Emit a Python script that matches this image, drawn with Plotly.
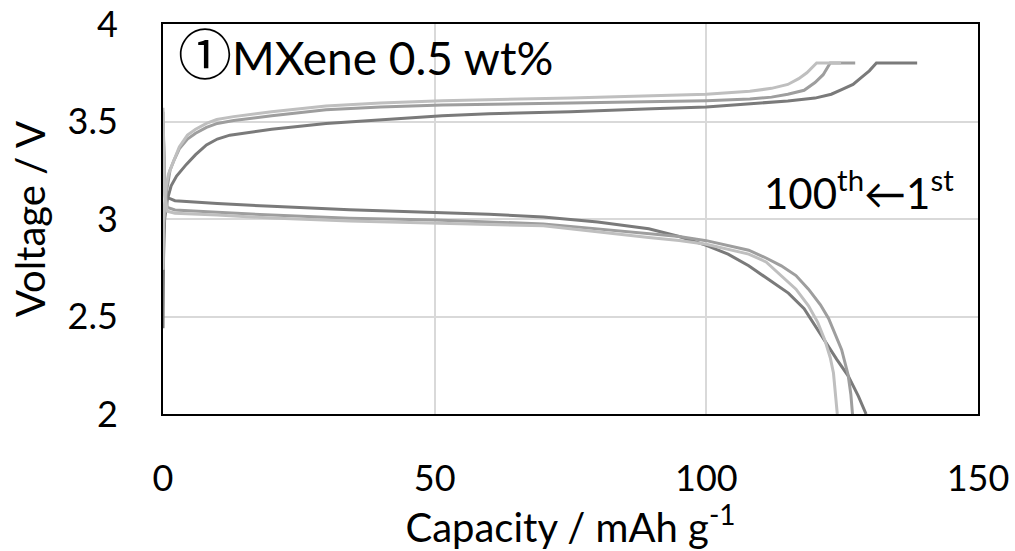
import plotly.graph_objects as go

# 1st cycle (dark)
ch1_cap = [0, 0.1, 0.3, 0.8, 1.5, 2.5, 4.3, 6, 8, 10, 12.3, 15, 20, 30, 40, 51.4, 60, 75, 90, 100, 110, 115, 120, 123, 125, 127, 128.5, 130, 131.3, 138.8]
ch1_v = [2.44, 2.8, 3.0, 3.1, 3.17, 3.22, 3.28, 3.33, 3.38, 3.41, 3.43, 3.44, 3.46, 3.49, 3.51, 3.53, 3.54, 3.55, 3.565, 3.575, 3.595, 3.605, 3.62, 3.64, 3.665, 3.69, 3.725, 3.76, 3.8, 3.8]
dis1_cap = [0, 0.3, 0.8, 2.2, 10, 20, 34.3, 50, 60, 70, 80, 89.4, 95, 100, 104, 107.8, 111, 115.1, 118, 121.2, 124, 126.1, 128, 129.4]
dis1_v = [3.5, 3.2, 3.11, 3.094, 3.08, 3.065, 3.048, 3.035, 3.025, 3.01, 2.985, 2.95, 2.91, 2.865, 2.82, 2.76, 2.70, 2.62, 2.54, 2.40, 2.28, 2.196, 2.09, 2.0]

# middle cycle
ch2_cap = [0, 0.1, 0.3, 0.7, 1.3, 2, 3, 4.5, 6, 8, 10, 13, 20, 30, 40, 51.4, 75, 100, 108, 112, 115, 118, 120, 121.5, 122.8, 127.4]
ch2_v = [2.74, 2.95, 3.05, 3.15, 3.25, 3.3, 3.36, 3.41, 3.44, 3.47, 3.49, 3.505, 3.53, 3.56, 3.575, 3.585, 3.595, 3.607, 3.615, 3.625, 3.64, 3.66, 3.7, 3.74, 3.8, 3.8]
dis2_cap = [0, 0.3, 0.8, 2.2, 10, 20, 34.3, 50, 70, 89.4, 95, 100, 104, 107.8, 111, 113.8, 116.5, 118.8, 121, 122.5, 124.9, 126.1, 126.6, 126.9]
dis2_v = [3.55, 3.15, 3.06, 3.046, 3.035, 3.02, 3.004, 2.995, 2.975, 2.925, 2.91, 2.889, 2.865, 2.84, 2.80, 2.76, 2.71, 2.64, 2.56, 2.49, 2.33, 2.2, 2.1, 2.0]

# 100th cycle (light)
ch3_cap = [0, 0.1, 0.3, 0.6, 1.0, 1.8, 3, 4.5, 6, 8, 9.9, 13, 20, 30, 40, 51.4, 75, 100, 108, 112, 115, 117, 118.5, 120.3, 124.8]
ch3_v = [2.74, 2.98, 3.08, 3.17, 3.23, 3.29, 3.37, 3.43, 3.46, 3.49, 3.51, 3.525, 3.55, 3.58, 3.595, 3.607, 3.62, 3.64, 3.655, 3.67, 3.69, 3.72, 3.75, 3.8, 3.8]
dis3_cap = [0, 0.3, 0.8, 2.2, 10, 20, 34.3, 50, 70, 89.4, 95, 100, 104, 107.8, 111, 113.8, 116.5, 118.8, 120.5, 121.8, 122.8, 123.4, 123.8, 124.1]
dis3_v = [3.57, 3.12, 3.04, 3.03, 3.02, 3.005, 2.99, 2.98, 2.965, 2.905, 2.89, 2.87, 2.845, 2.82, 2.78, 2.71, 2.64, 2.555, 2.47, 2.38, 2.29, 2.21, 2.1, 2.0]

x_ticks = [0, 50, 100, 150]
y_ticks = [2, 2.5, 3, 3.5, 4]
y_tick_labels = ["2", "2.5", "3", "3.5", "4"]

colors = ["#7a7a7a", "#9e9e9e", "#bfbfbf"]
FONT = "Lato, 'Noto Sans CJK JP', sans-serif"

fig = go.Figure()
series = [
    (ch1_cap, ch1_v, dis1_cap, dis1_v),
    (ch2_cap, ch2_v, dis2_cap, dis2_v),
    (ch3_cap, ch3_v, dis3_cap, dis3_v),
]
for (cc, cv, dc, dv), col in zip(series, colors):
    fig.add_trace(go.Scatter(x=cc, y=cv, mode="lines", line=dict(color=col, width=3), showlegend=False))
    fig.add_trace(go.Scatter(x=dc, y=dv, mode="lines", line=dict(color=col, width=3), showlegend=False))

fig.add_annotation(x=2.4, y=3.86, xref="x", yref="y",
                   text="<span style=\"font-family:'Noto Sans CJK JP';font-size:54px\">①</span>MXene 0.5 wt%",
                   showarrow=False, xanchor="left", yanchor="middle",
                   font=dict(family=FONT, size=46, color="black"))
fig.add_annotation(x=146, y=3.15, xref="x", yref="y", text="100<sup>th</sup>←1<sup>st</sup>", showarrow=False,
                   xanchor="right", yanchor="middle", font=dict(family=FONT, size=42, color="black"))

fig.update_layout(
    width=1015, height=551,
    margin=dict(l=163, r=37, t=24, b=137, autoexpand=False),
    paper_bgcolor="white", plot_bgcolor="white",
    font=dict(family=FONT, size=36, color="black"),
)
fig.update_xaxes(range=[0, 150], tickvals=x_ticks, showgrid=True, gridcolor="#d9d9d9", gridwidth=1.5,
                 showline=True, linecolor="black", linewidth=2, mirror=True, zeroline=False,
                 ticks="", ticklabelstandoff=32, automargin=False,
                 title=dict(text="Capacity / mAh g<sup>-1</sup>", font=dict(size=40), standoff=14))
fig.update_yaxes(range=[2, 4], tickvals=y_ticks, ticktext=y_tick_labels, showgrid=True, gridcolor="#d9d9d9", gridwidth=1.5,
                 showline=True, linecolor="black", linewidth=2, mirror=True, zeroline=False,
                 ticks="", ticklabelstandoff=36, automargin=False,
                 title=dict(text="Voltage / V", font=dict(size=40), standoff=10))

fig.write_html("out.html")
